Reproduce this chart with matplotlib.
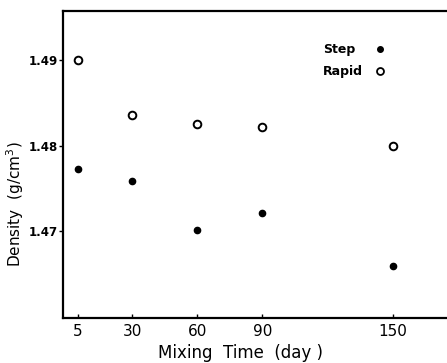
import numpy as np
import matplotlib
matplotlib.use("Agg")
import matplotlib.pyplot as plt

# data
days = [5, 30, 60, 90, 150]
step = [1.4773, 1.4759, 1.4702, 1.4722, 1.4660]
rapid = [1.4900, 1.4836, 1.4825, 1.4822, 1.4800]
xticks = [5, 30, 60, 90, 150]
yticks = [1.47, 1.48, 1.49]

plt.rcParams['font.family'] = 'DejaVu Sans'

fig = plt.figure(figsize=(4.47, 3.63), dpi=100)
ax = fig.add_axes([63 / 447, 45 / 363, 1 - 63 / 447, 307 / 363])

ax.plot(days, step, 'o', color='black', ms=4.5, ls='none')
ax.plot(days, rapid, 'o', mfc='white', mec='black', mew=1.4, ms=5.5, ls='none')

ax.set_xlim(-1.8, 175)
ax.set_ylim(1.4599, 1.4957)

ax.set_xticks(xticks)
ax.set_yticks(yticks)
ax.set_yticklabels([f"{v:.2f}" for v in yticks])
ax.tick_params(axis='x', direction='in', length=3, width=1, labelsize=11, pad=4)
ax.tick_params(axis='y', direction='out', length=3, width=1, labelsize=8.5, pad=1)
for lab in ax.get_yticklabels():
    lab.set_fontweight('bold')

ax.spines['right'].set_visible(False)
for s in ['left', 'bottom', 'top']:
    ax.spines[s].set_linewidth(1.6)

ax.set_xlabel('Mixing  Time  (day )', fontsize=12)
ax.xaxis.set_label_coords((240 - 63) / (447 - 63), -0.085)
ax.set_ylabel('Density  (g/cm$^3$)', fontsize=11)
ax.yaxis.set_label_coords((26 - 63) / (447 - 63), 0.37)

# legend drawn by hand (text left, marker right)
ax.text(0.678, 0.875, 'Step', transform=ax.transAxes, fontsize=9,
        fontweight='bold', va='center')
ax.text(0.678, 0.803, 'Rapid', transform=ax.transAxes, fontsize=9,
        fontweight='bold', va='center')
ax.plot([0.826], [0.875], 'o', color='black', ms=4, transform=ax.transAxes)
ax.plot([0.826], [0.803], 'o', mfc='white', mec='black', mew=1.3, ms=5,
        transform=ax.transAxes)

fig.savefig('out.png', dpi=100)
